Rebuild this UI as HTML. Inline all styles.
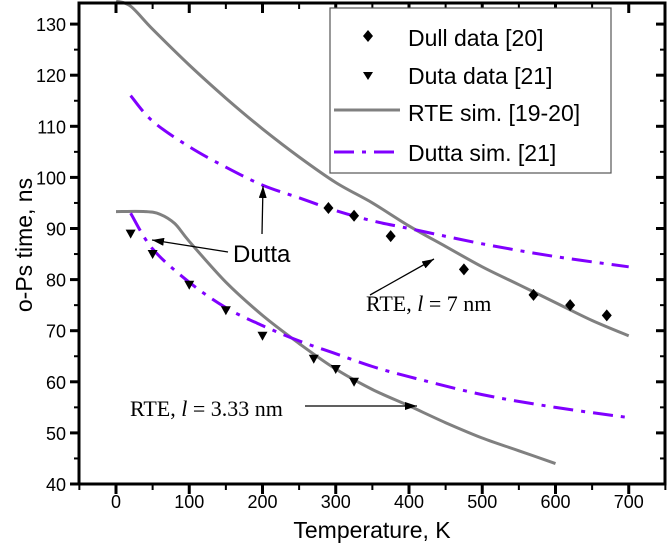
<!DOCTYPE html>
<html><head><meta charset="utf-8"><style>
body{margin:0;background:#fff}
svg{display:block;font-family:"Liberation Sans",Arial,sans-serif}
</style></head><body>
<svg id="chart" width="668" height="546">
<g id="plot"></g>
</svg>
<script>
const xTicks=[0,100,200,300,400,500,600,700];
const yTicks=[40,50,60,70,80,90,100,110,120,130];
const dullT=[290,325,375,475,570,620,670];
const dullV=[94,92.5,88.5,82,77,75,73];
const dutaT=[20,50,100,150,200,270,300,325];
const dutaV=[89,85,79,74,69,64.5,62.5,60];
const rte7T=[0,20,50,100,150,200,250,300,350,400,450,500,550,600,650,700];
const rte7V=[134.5,133.5,129,122,115.5,109.5,104,99,95,90.5,86.5,82.5,79,75.5,72,69];
const rte3T=[0,40,60,80,100,150,200,250,300,350,400,450,500,550,600];
const rte3V=[93.3,93.3,92.8,91,87.5,79.5,73,67.5,62.5,58.5,55.3,52,49,46.5,44];
const dsUT=[20,50,100,150,200,250,300,350,400,500,600,700];
const dsUV=[116,111,106,102,98.5,96,93.5,91.5,90,87,84.5,82.5];
const dsLT=[20,50,100,150,200,250,300,350,400,500,600,700];
const dsLV=[93,86,79.5,74.5,71,68,65.5,63,61,57.5,55,53];

const L=79,R=665,T=3,B=484;
const xs=v=>L+(v+50.5)/800*(R-L);
const ys=v=>B-(v-40)/10*51.1;
const NS="http://www.w3.org/2000/svg";
const g=document.getElementById('plot');
function mk(tag,attrs,parent){const e=document.createElementNS(NS,tag);for(const k in attrs)e.setAttribute(k,attrs[k]);(parent||g).appendChild(e);return e;}
function smooth(T_,V){
  const P=T_.map((t,i)=>[xs(t),ys(V[i])]);
  let d='M'+P[0][0].toFixed(1)+','+P[0][1].toFixed(1);
  for(let i=0;i<P.length-1;i++){
    const p0=P[i-1]||P[i],p1=P[i],p2=P[i+1],p3=P[i+2]||P[i+1];
    const c1=[p1[0]+(p2[0]-p0[0])/6,p1[1]+(p2[1]-p0[1])/6];
    const c2=[p2[0]-(p3[0]-p1[0])/6,p2[1]-(p3[1]-p1[1])/6];
    d+=` C${c1[0].toFixed(1)},${c1[1].toFixed(1)} ${c2[0].toFixed(1)},${c2[1].toFixed(1)} ${p2[0].toFixed(1)},${p2[1].toFixed(1)}`;
  }
  return d;
}
function line(T_,V,name,stroke,dash){
  const p=mk('path',{d:smooth(T_,V),fill:'none',stroke:stroke,'stroke-width':3,'stroke-dasharray':dash||'none'});
  
  
}
line(rte7T,rte7V,'rte-7nm-line','#808080');
line(rte3T,rte3V,'rte-3-33nm-line','#808080');
line(dsUT,dsUV,'dutta-sim-upper-line','#8000ff','20 8 4 8');
line(dsLT,dsLV,'dutta-sim-lower-line','#8000ff','20 8 4 8');
dullT.forEach((t,i)=>{const x=xs(t),y=ys(dullV[i]);
  const p=mk('path',{d:`M${x},${y-6} L${x+5},${y} L${x},${y+6} L${x-5},${y} Z`,fill:'#000'});
  
  });
dutaT.forEach((t,i)=>{const x=xs(t),y=ys(dutaV[i]);
  const p=mk('path',{d:`M${x-5},${y-4} L${x+5},${y-4} L${x},${y+5} Z`,fill:'#000'});
  
  });
const fr=mk('rect',{x:L,y:T,width:R-L,height:B-T,fill:'none',stroke:'#000','stroke-width':3});


xTicks.forEach(v=>{const x=xs(v);
  mk('line',{x1:x,x2:x,y1:B,y2:B+10,stroke:'#000','stroke-width':3});
  mk('line',{x1:x,x2:x,y1:T,y2:T+10,stroke:'#000','stroke-width':3});
  mk('line',{x1:xs(v-50),x2:xs(v-50),y1:B,y2:B+6,stroke:'#000','stroke-width':2});
  mk('line',{x1:xs(v-50),x2:xs(v-50),y1:T,y2:T+6,stroke:'#000','stroke-width':2});
  const t=mk('text',{x:x,y:B+24,'text-anchor':'middle','font-size':18});t.textContent=v;
  
  });
mk('line',{x1:xs(750),x2:xs(750),y1:B,y2:B+6,stroke:'#000','stroke-width':2});
yTicks.forEach(v=>{const y=ys(v);
  mk('line',{x1:L-9,x2:L,y1:y,y2:y,stroke:'#000','stroke-width':3});
  mk('line',{x1:R-9,x2:R,y1:y,y2:y,stroke:'#000','stroke-width':3});
  mk('line',{x1:L-5,x2:L,y1:ys(v+5),y2:ys(v+5),stroke:'#000','stroke-width':2});
  mk('line',{x1:R-5,x2:R,y1:ys(v+5),y2:ys(v+5),stroke:'#000','stroke-width':2});
  const t=mk('text',{x:L-13,y:y+7,'text-anchor':'end','font-size':18});t.textContent=v;
  
  });
</script>
<svg width="668" height="546" style="position:absolute;left:0;top:0">
<defs><marker id="ah2" markerWidth="12" markerHeight="8" refX="12" refY="4" orient="auto" markerUnits="userSpaceOnUse"><path d="M0,0 L12,4 L0,8 Z" fill="#000"/></marker></defs>
<text x="372" y="538" text-anchor="middle" font-size="23">Temperature, K</text>
<text transform="translate(32,245) rotate(-90)" text-anchor="middle" font-size="23">o-Ps time, ns</text>
<g>
<rect x="330" y="8" width="281" height="165" fill="#fff" stroke="#555" stroke-width="1.2"/>
<path d="M368,30 l5,6 l-5,6 l-5,-6 Z" fill="#000"/>
<text x="408" y="46" font-size="23">Dull data [20]</text>
<path d="M363,72 l10,0 l-5,8 Z" fill="#000"/>
<text x="408" y="84" font-size="23">Duta data [21]</text>
<line x1="334" x2="400" y1="110" y2="110" stroke="#808080" stroke-width="3"/>
<text x="408" y="121" font-size="23">RTE sim. [19-20]</text>
<line x1="334" x2="400" y1="152" y2="152" stroke="#8000ff" stroke-width="3" stroke-dasharray="20 8 4 8"/>
<text x="408" y="161" font-size="23">Dutta sim. [21]</text>
</g>
<g font-family="Liberation Serif,serif">
<text x="233" y="262" font-size="24" font-family="Liberation Sans,sans-serif">Dutta</text>
<line x1="228" y1="252" x2="152" y2="240" stroke="#000" stroke-width="1.3" marker-end="url(#ah2)"/>
<line x1="262" y1="234" x2="263" y2="186" stroke="#000" stroke-width="1.3" marker-end="url(#ah2)"/>
<text x="366" y="311" font-size="22">RTE, <tspan font-style="italic">l</tspan> = 7 nm</text>
<line x1="370" y1="295" x2="434" y2="259" stroke="#000" stroke-width="1.3" marker-end="url(#ah2)"/>
<text x="130" y="416" font-size="22">RTE,  <tspan font-style="italic">l</tspan> = 3.33 nm</text>
<line x1="305" y1="406" x2="417" y2="406" stroke="#000" stroke-width="1.3" marker-end="url(#ah2)"/>
</g>
</svg>
</body></html>
